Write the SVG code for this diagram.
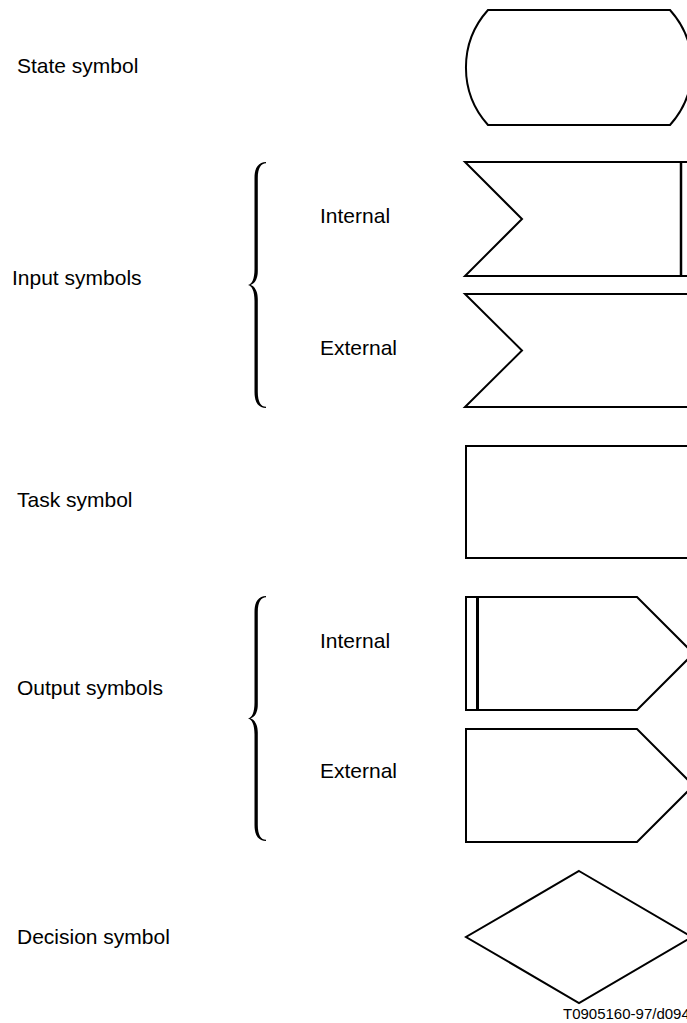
<svg xmlns="http://www.w3.org/2000/svg" width="687" height="1023" viewBox="0 0 687 1023">
<style>
.lbl{font-family:"Liberation Sans",Arial,sans-serif;font-size:21px;fill:#000}
.foot{font-family:"Liberation Sans",Arial,sans-serif;font-size:15px;fill:#000}
.shp{fill:none;stroke:#000;stroke-width:2;stroke-linejoin:miter}
.brace{fill:#000;stroke:none}
</style>
<rect width="687" height="1023" fill="#fff"/>
<g id="labels">
<text class="lbl" x="17" y="73">State symbol</text>
<text class="lbl" x="12" y="285">Input symbols</text>
<text class="lbl" x="320" y="223">Internal</text>
<text class="lbl" x="320" y="355">External</text>
<text class="lbl" x="17" y="507">Task symbol</text>
<text class="lbl" x="17" y="695">Output symbols</text>
<text class="lbl" x="320" y="648">Internal</text>
<text class="lbl" x="320" y="778">External</text>
<text class="lbl" x="17" y="944">Decision symbol</text>
<text class="foot" x="563" y="1019">T0905160-97/d094</text>
</g>
<g id="braces">
<path class="brace" d="M266,162 C259,162 254.5,167 254.5,178 L254.5,269 C254.5,279 252,284 248,285 C252,286 254.5,291 254.5,301 L254.5,392 C254.5,403 259,408 266,408 L266,406.8 C261,406.8 257.8,402 257.8,392 L257.8,299 C257.8,290 254,286 250.5,285 C254,284 257.8,280 257.8,271 L257.8,178 C257.8,168 261,163.2 266,163.2 Z"/>
<path class="brace" d="M266,596 C259,596 254.5,601 254.5,612 L254.5,702.5 C254.5,712.5 252,717.5 248,718.5 C252,719.5 254.5,724.5 254.5,734.5 L254.5,825 C254.5,836 259,841 266,841 L266,839.8 C261,839.8 257.8,835 257.8,825 L257.8,732.5 C257.8,723.5 254,719.5 250.5,718.5 C254,717.5 257.8,713.5 257.8,704.5 L257.8,612 C257.8,602 261,597.2 266,597.2 Z"/>
</g>
<g id="state">
<path class="shp" d="M488,10 L670,10 A86,86 0 0 1 670,125 L488,125 A86,86 0 0 1 488,10 Z"/>
</g>
<g id="input-internal">
<polygon class="shp" points="465,162 700,162 700,276 465,276 522,219"/>
<line x1="681" y1="162" x2="681" y2="276" stroke="#000" stroke-width="2.5"/>
</g>
<g id="input-external">
<polygon class="shp" points="465,294 700,294 700,407 465,407 522,350.5"/>
</g>
<g id="task">
<rect class="shp" x="466" y="446" width="240" height="112"/>
</g>
<g id="output-internal">
<polygon class="shp" points="466,597 637,597 693.5,653.5 637,710 466,710" stroke-width="1.6"/>
<path d="M466,597 L637,597 M466,710 L637,710" stroke="#000" stroke-width="2" fill="none"/>
<line x1="477.5" y1="597" x2="477.5" y2="710" stroke="#000" stroke-width="3"/>
</g>
<g id="output-external">
<polygon class="shp" points="466,729 637,729 693.5,785.5 637,842 466,842"/>
</g>
<g id="decision">
<polygon class="shp" points="579,871 692,937 579,1003 466,937"/>
</g>
</svg>
